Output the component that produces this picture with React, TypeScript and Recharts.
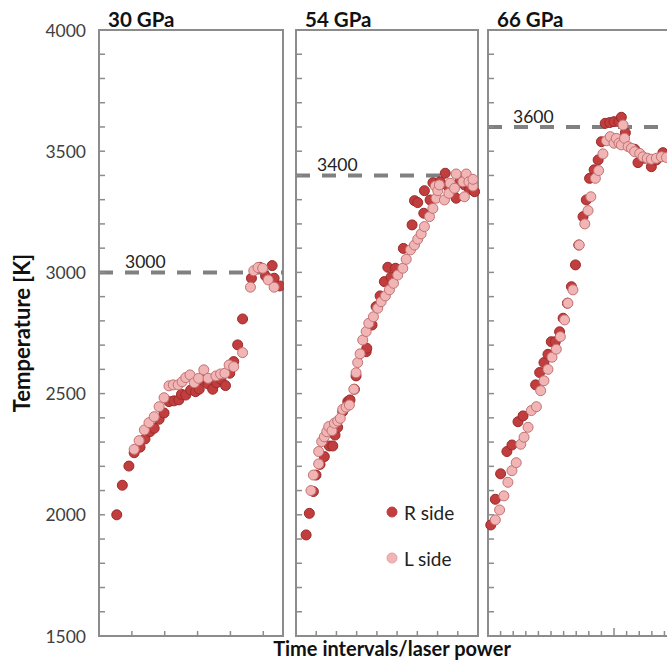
import React from 'react';
import {
  ScatterChart, Scatter, XAxis, YAxis, ReferenceLine, ReferenceArea, Legend
} from 'recharts';

// [time step, temperature K]
const rSide30 = [
  [5.4, 2000], [7.1, 2122], [9.1, 2201], [10.7, 2256], [12.5, 2279], [14, 2313], [15.5, 2343], [16.8, 2357],
  [18.3, 2394], [19.8, 2420], [21.3, 2467], [22.8, 2470], [24.3, 2474], [25.1, 2497], [26.4, 2494], [27.9, 2515],
  [29.4, 2508], [30.5, 2518], [32, 2556], [33.2, 2540], [34.6, 2518], [35.8, 2545], [37.1, 2559], [38.5, 2533],
  [39.8, 2584], [41, 2632], [42.2, 2701], [43.7, 2808], [46.4, 2976], [48.9, 3021], [50.7, 2985], [52.7, 3028],
  [53.3, 2976], [55, 2944],
];
const lSide30 = [
  [10.7, 2270], [12.2, 2306], [13.8, 2350], [15.2, 2380], [16.8, 2405], [18.3, 2446], [19.8, 2483], [21.3, 2532],
  [22.6, 2536], [24.1, 2536], [25.3, 2549], [26.4, 2566], [27.7, 2577], [29, 2545], [30.3, 2563], [31.9, 2598],
  [33.2, 2563], [35.6, 2573], [37, 2581], [38.3, 2584], [39.6, 2618], [41, 2611], [43.7, 2669], [46.1, 2939],
  [47.1, 3007], [48.4, 3020], [49.8, 3017], [51.5, 2969], [53.3, 2939],
];
const rSide54 = [
  [5, 1917], [6.6, 2006], [8.6, 2096], [9.9, 2164], [11.9, 2208], [14, 2240], [16.5, 2284], [18.2, 2284],
  [19.3, 2329], [20.6, 2361], [23.1, 2426], [25.6, 2467], [26.7, 2474], [28.9, 2518], [29.7, 2573], [34.7, 2673],
  [35, 2687], [37.6, 2783], [39.6, 2859], [41.6, 2903], [43.7, 2962], [45.4, 3021], [47, 2980], [49.2, 3017],
  [53.1, 3099], [57.4, 3196], [58.6, 3296], [60.2, 3288], [63.2, 3244], [63.5, 3337], [66.3, 3299], [67.7, 3370],
  [71.3, 3374], [73.8, 3409], [75.1, 3356], [77.6, 3340], [79.2, 3306], [81.2, 3381], [83.3, 3361], [85.8, 3343],
  [88.3, 3333],
];
const lSide54 = [
  [7.4, 2100], [8.6, 2164], [11.2, 2210], [11.2, 2261], [12.7, 2302], [14, 2322], [15.2, 2343], [16.2, 2364],
  [17.8, 2347], [19, 2378], [20.6, 2387], [21.9, 2398], [23.1, 2435], [24.8, 2444], [26.4, 2453], [28.6, 2518],
  [29.7, 2586], [30.5, 2628], [31.7, 2664], [33, 2721], [34.7, 2756], [36, 2790], [38.3, 2817], [40.4, 2852],
  [42.1, 2879], [44.2, 2903], [46.2, 2928], [48.2, 2955], [50.3, 2989], [52.8, 3017], [54.5, 3054], [56.6, 3093],
  [58.6, 3113], [60.2, 3137], [61.9, 3159], [63.5, 3189], [66, 3230], [67.7, 3264], [68.9, 3356], [69.3, 3306],
  [70.1, 3337], [70.9, 3361], [73.4, 3299], [75.6, 3326], [76.2, 3368], [78.4, 3347], [79.2, 3406], [82.5, 3374],
  [83.3, 3312], [84.2, 3406], [85.5, 3374], [87.5, 3356], [87.5, 3384],
];
const rSide66 = [
  [1.1, 1958], [2.9, 2064], [5, 2169], [7.5, 2261], [9.5, 2288], [11.9, 2384], [13.9, 2408], [18.9, 2536],
  [20.5, 2587], [22.2, 2628], [23.8, 2662], [25.1, 2714], [26.7, 2714], [28.4, 2755], [29.8, 2811], [31.5, 2873],
  [33.1, 2941], [34.7, 3031], [36, 3113], [37.7, 3230], [39, 3299], [40.3, 3388], [42.1, 3423], [43.7, 3464],
  [45, 3539], [46.5, 3615], [48.3, 3618], [50, 3622], [51.9, 3622], [52.9, 3640], [54.5, 3576], [58.2, 3508],
  [59.5, 3453], [62.2, 3471], [64.8, 3436], [66.8, 3464], [69.4, 3494],
];
const lSide66 = [
  [2.9, 1979], [4.6, 2020], [6.3, 2078], [7.9, 2134], [9.5, 2182], [11.2, 2215], [13, 2291], [14.3, 2320],
  [15.9, 2361], [17.2, 2430], [19.2, 2446], [20.9, 2512], [22.2, 2553], [23.8, 2600], [25.4, 2650], [27.1, 2683],
  [28.7, 2735], [30.4, 2804], [31.7, 2873], [33.7, 2928], [36.2, 3113], [38.4, 3200], [39.7, 3255], [40.8, 3312],
  [42.6, 3388], [43.9, 3420], [45.6, 3489], [47, 3543], [48.5, 3560], [50, 3533], [50.9, 3553], [52, 3533],
  [52.9, 3526], [53.6, 3608], [54.2, 3553], [55.6, 3519], [56.9, 3512], [58.2, 3498], [60.2, 3491], [61.5, 3477],
  [63.2, 3471], [64.8, 3467], [66.8, 3471], [68.8, 3477], [70.8, 3474],
];

const yTicks = [1500, 1600, 1700, 1800, 1900, 2000, 2100, 2200, 2300, 2400, 2500, 2600, 2700, 2800, 2900, 3000,
  3100, 3200, 3300, 3400, 3500, 3600, 3700, 3800, 3900, 4000];
const ticks30 = [10, 20, 30, 40, 50];
const ticks54 = [10, 20, 30, 40, 50, 60, 70, 80];
const ticks66 = [5, 10, 15, 20, 25, 30, 35, 40, 45, 50, 55, 60, 65, 70];
const seriesNames = ['R side', 'L side'];

const FONT = 'Lato, "Open Sans", sans-serif';
const GRAY = '#8c8c8c';
const R_FILL = '#c23d3d', R_STROKE = '#9a2b2b';
const L_FILL = '#f2b5b5', L_STROKE = '#c27272';

const toPts = (arr: number[][]) => arr.map(([step, temp]) => ({ step, temp }));

const dot = (fill: string, stroke: string) => (p: any) =>
  <circle cx={p.cx} cy={p.cy} r={5} fill={fill} stroke={stroke} strokeWidth={1} />;

const YTick = ({ x, y, payload, showLabel }: any) => (
  <g>
    <line x1={x} y1={y} x2={x + 6} y2={y} stroke={GRAY} strokeWidth={1.5} />
    {showLabel && payload.value % 500 === 0 && (
      <text x={x - 13} y={y} textAnchor="end" dominantBaseline="central" fontSize={17.5} fill="#404040" fontFamily={FONT}>
        {payload.value}
      </text>
    )}
  </g>
);

const XTick = ({ x, y, payload, major }: any) => (
  <line x1={x} y1={y} x2={x} y2={y - (payload.value === major ? 8 : 5)} stroke={GRAY} strokeWidth={1.5} />
);

const LegendBox = ({ payload }: any) => {
  const items = seriesNames.map((n) => (payload || []).find((p: any) => p.value === n)).filter(Boolean);
  return (
    <div style={{ fontFamily: FONT, fontSize: 19, color: '#222' }}>
      {items.map((p: any) => (
        <div key={p.value} style={{ display: 'flex', alignItems: 'center', height: 46 }}>
          <svg width={12} height={12} style={{ marginRight: 6 }}>
            <circle cx={6} cy={6} r={5} fill={p.value === 'R side' ? R_FILL : L_FILL}
              stroke={p.value === 'R side' ? R_FILL : '#e6a0a0'} strokeWidth={1} />
          </svg>
          <span>{p.value}</span>
        </div>
      ))}
    </div>
  );
};

type PanelProps = {
  title: string; r: number[][]; l: number[][]; xMax: number; xTicks: number[]; major?: number;
  plateau: number; labelDx: number; left: number; width: number; margin: any; yWidth: number;
  first?: boolean; legend?: boolean; xTitle?: boolean;
};

const Panel = (pp: PanelProps) => (
  <div style={{ position: 'absolute', left: pp.left, top: 0 }}>
    <ScatterChart width={pp.width} height={660} margin={pp.margin}>
      <XAxis type="number" dataKey="step" domain={[0, pp.xMax]} ticks={pp.xTicks} interval={0}
        axisLine={false} tickLine={false} tickSize={0} tickMargin={0} height={24}
        tick={<XTick major={pp.major} />} />
      <YAxis type="number" dataKey="temp" domain={[1500, 4000]} ticks={yTicks} interval={0} width={pp.yWidth}
        axisLine={false} tickLine={false} tickSize={0} tickMargin={0}
        tick={<YTick showLabel={pp.first} />}
        label={pp.first ? {
          content: (p: any) => {
            const cy = p.viewBox.y + p.viewBox.height / 2;
            return (
              <text x={21} y={cy} transform={`rotate(-90, 21, ${cy})`} textAnchor="middle" dominantBaseline="central"
                fontSize={22} fontWeight="bold" fill="#111" fontFamily={FONT}>Temperature [K]</text>
            );
          }
        } : undefined} />
      <ReferenceArea x1={0} x2={pp.xMax} y1={1500} y2={4000} fill="none" stroke={GRAY} strokeWidth={2}
        label={{
          content: (p: any) => (
            <g>
              <text x={p.viewBox.x + 9} y={p.viewBox.y - 3} fontSize={20.5} fontWeight="bold" fill="#111"
                fontFamily={FONT}>{pp.title}</text>
              {pp.xTitle && (
                <text x={p.viewBox.x + p.viewBox.width / 2 + 5} y={p.viewBox.y + p.viewBox.height + 20}
                  textAnchor="middle" fontSize={20} fontWeight="bold" fill="#111" fontFamily={FONT}>
                  Time intervals/laser power
                </text>
              )}
            </g>
          )
        }} />
      <ReferenceLine y={pp.plateau} stroke="#808080" strokeWidth={4} strokeDasharray="14 12"
        label={{
          content: (p: any) => (
            <text x={p.viewBox.x + pp.labelDx} y={p.viewBox.y - 4} fontSize={17.5} fill="#222"
              fontFamily={FONT}>{pp.plateau}</text>
          )
        }} />
      <Scatter name={seriesNames[0]} data={toPts(pp.r)} fill={R_FILL} shape={dot(R_FILL, R_STROKE)} isAnimationActive={false} />
      <Scatter name={seriesNames[1]} data={toPts(pp.l)} fill={L_FILL} shape={dot(L_FILL, L_STROKE)} isAnimationActive={false} />
      {pp.legend && (
        <Legend layout="vertical" align="center" verticalAlign="middle" content={<LegendBox />}
          wrapperStyle={{ left: 136, top: 489, width: 100 }} />
      )}
    </ScatterChart>
  </div>
);

export default function App() {
  return (
    <div style={{ position: 'fixed', left: 0, top: 0, width: 667, height: 660, overflow: 'hidden', background: '#fff', fontFamily: FONT }}>
      <Panel title="30 GPa" r={rSide30} l={lSide30} xMax={56} xTicks={ticks30} plateau={3000} labelDx={26}
        left={0} width={284} margin={{ top: 30, right: 1, bottom: 0, left: 0 }} yWidth={99} first />
      <Panel title="54 GPa" r={rSide54} l={lSide54} xMax={90} xTicks={ticks54} plateau={3400} labelDx={21}
        left={250} width={280} margin={{ top: 30, right: 52, bottom: 0, left: 36 }} yWidth={10} legend xTitle />
      <Panel title="66 GPa" r={rSide66} l={lSide66} xMax={73} xTicks={ticks66} major={50} plateau={3600} labelDx={25}
        left={478} width={195} margin={{ top: 30, right: 1, bottom: 0, left: 0 }} yWidth={10} />
    </div>
  );
}
